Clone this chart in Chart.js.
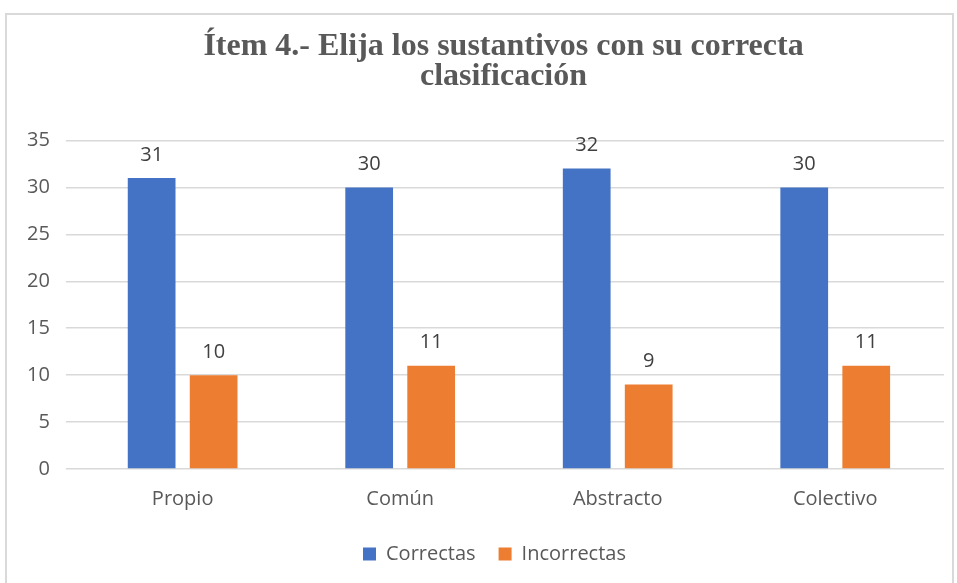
<!DOCTYPE html>
<html>
<head>
<meta charset="utf-8">
<script src="https://cdn.jsdelivr.net/npm/chart.js@4"></script>
<style>
  body { margin: 0; background: #fff; }
  #marco { position: absolute; left: 5px; top: 13px; width: 945px; height: 572px; border: 2px solid #d9d9d9; border-bottom: none; }
</style>
</head>
<body>
<div id="marco"><canvas id="barChart" width="945" height="572"></canvas></div>
<script>
// Datos de la gráfica
const categorias = ['Propio', 'Común', 'Abstracto', 'Colectivo'];
const correctas = [31, 30, 32, 30];
const incorrectas = [10, 11, 9, 11];
const ticksY = [0, 5, 10, 15, 20, 25, 30, 35];

const fuente = 'Open Sans';

// Etiquetas de valor sobre cada barra
const etiquetasValor = {
    id: 'etiquetasValor',
    afterDatasetsDraw(chart) {
        const ctx = chart.ctx;
        ctx.save();
        ctx.font = '20px "' + fuente + '"';
        ctx.fillStyle = '#404040';
        ctx.textAlign = 'center';
        ctx.textBaseline = 'bottom';
        chart.data.datasets.forEach((ds, i) => {
            chart.getDatasetMeta(i).data.forEach((bar, j) => {
                ctx.fillText(ds.data[j], bar.x, bar.y - 13);
            });
        });
        ctx.restore();
    }
};

// El título y la leyenda están algo desplazados a la derecha en el original
const desplazar = {
    id: 'desplazar',
    afterLayout(chart) {
        chart.titleBlock.left += 26;
        chart.titleBlock.right += 26;
        chart.legend.left += 17;
        chart.legend.right += 17;
    }
};

const ctx = document.getElementById('barChart').getContext('2d');
const barChart = new Chart(ctx, {
    type: 'bar',
    data: {
        labels: categorias,
        datasets: [{
            label: 'Correctas',
            data: correctas,
            backgroundColor: '#4472c4',
            categoryPercentage: 0.57,
            barPercentage: 0.77
        }, {
            label: 'Incorrectas',
            data: incorrectas,
            backgroundColor: '#ed7d31',
            categoryPercentage: 0.57,
            barPercentage: 0.77
        }]
    },
    options: {
        responsive: false,
        animation: false,
        layout: { padding: { left: 4, right: 8, top: 0, bottom: 13 } },
        plugins: {
            title: {
                display: true,
                text: ['Ítem 4.- Elija los sustantivos con su correcta', 'clasificación'],
                color: '#595959',
                font: { family: 'Liberation Serif', size: 32, weight: 'bold', lineHeight: 0.96 },
                padding: { top: 16, bottom: 48 }
            },
            legend: {
                position: 'bottom',
                labels: {
                    color: '#595959',
                    font: { family: fuente, size: 20 },
                    boxWidth: 13,
                    boxHeight: 13,
                    padding: 23
                }
            },
            tooltip: { enabled: false }
        },
        scales: {
            x: {
                grid: { display: false },
                border: { display: false },
                ticks: { color: '#595959', font: { family: fuente, size: 20 }, padding: 10 }
            },
            y: {
                min: 0,
                max: 35,
                afterBuildTicks(axis) { axis.ticks = ticksY.map(v => ({ value: v })); },
                grid: { color: '#d9d9d9', lineWidth: 1.5 },
                border: { display: false },
                ticks: { color: '#595959', font: { family: fuente, size: 20 }, padding: 16 }
            }
        }
    },
    plugins: [etiquetasValor, desplazar]
});
</script>
</body>
</html>
